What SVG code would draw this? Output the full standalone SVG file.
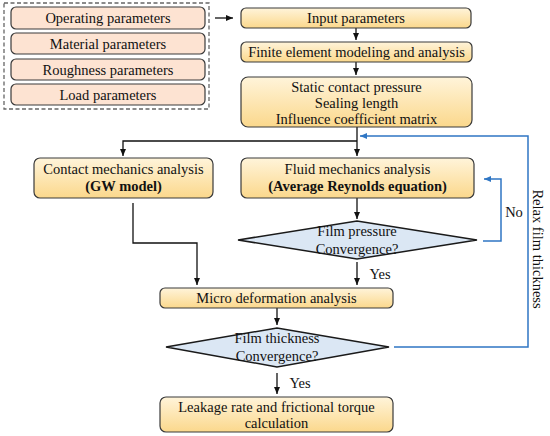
<svg xmlns="http://www.w3.org/2000/svg" width="550" height="436" viewBox="0 0 550 436">
<defs>
<linearGradient id="gy" x1="0" y1="0" x2="0" y2="1">
<stop offset="0" stop-color="#fff4da"/>
<stop offset="1" stop-color="#fbd88c"/>
</linearGradient>
<marker id="ab" markerWidth="8" markerHeight="8" refX="7" refY="4" orient="auto" markerUnits="userSpaceOnUse">
<path d="M0,1 L7,4 L0,7 Z" fill="#111"/>
</marker>
<marker id="au" markerWidth="8" markerHeight="8" refX="7" refY="4" orient="auto" markerUnits="userSpaceOnUse">
<path d="M0,1 L7,4 L0,7 Z" fill="#2f76c4"/>
</marker>
<style>
text{font-family:"Liberation Serif","Times New Roman",serif;font-size:14.5px;fill:#111;text-anchor:middle}
.b{font-weight:bold}
.box{fill:url(#gy);stroke:#3a3a3a;stroke-width:1.2}
.par{fill:#fde3d2;stroke:#3a3a3a;stroke-width:1.2}
.dia{fill:#dbe7f4;stroke:#1a1a1a;stroke-width:1.5}
.k{fill:none;stroke:#111;stroke-width:1.3}
.bl{fill:none;stroke:#2f76c4;stroke-width:1.5}
</style>
</defs>

<g id="connectors">
<rect x="4" y="3" width="205" height="106" fill="none" stroke="#666" stroke-width="1.3" stroke-dasharray="4,2.5"/>
<path class="k" d="M215,18 H233" marker-end="url(#ab)"/>
<path class="k" d="M356,28 V40" marker-end="url(#ab)"/>
<path class="k" d="M356,62 V75" marker-end="url(#ab)"/>
<path class="k" d="M357,127 V156" marker-end="url(#ab)"/>
<path class="k" d="M357,141 H123 V156" marker-end="url(#ab)"/>
<path class="k" d="M357,198 V219" marker-end="url(#ab)"/>
<path class="k" d="M357,262 V285" marker-end="url(#ab)"/>
<path class="k" d="M133,203 V243 H197 V285" marker-end="url(#ab)"/>
<path class="k" d="M277,308 V325" marker-end="url(#ab)"/>
<path class="k" d="M277,373 V394" marker-end="url(#ab)"/>
<path class="bl" d="M483,241 H501 V179 H484" marker-end="url(#au)"/>
<path class="bl" d="M394,347 H528 V136 H360" marker-end="url(#au)"/>
<text x="514" y="217">No</text>
<text x="380" y="279">Yes</text>
<text x="300" y="388">Yes</text>
<text transform="translate(533,249) rotate(90)">Relax film thickness</text>
</g>

<g id="operating"><rect class="par" x="11" y="7" width="194" height="22" rx="5"/><text x="108" y="23">Operating parameters</text></g>
<g id="material"><rect class="par" x="11" y="33" width="194" height="21" rx="5"/><text x="108" y="48.5">Material parameters</text></g>
<g id="roughness"><rect class="par" x="11" y="59" width="194" height="21" rx="5"/><text x="108" y="74.5">Roughness parameters</text></g>
<g id="load"><rect class="par" x="11" y="84" width="194" height="21" rx="5"/><text x="108" y="99.5">Load parameters</text></g>

<g id="input"><rect class="box" x="241" y="8" width="230" height="20" rx="5"/><text x="356" y="23">Input parameters</text></g>
<g id="fem"><rect class="box" x="241" y="42" width="231" height="20" rx="5"/><text x="356.5" y="57">Finite element modeling and analysis</text></g>
<g id="static"><rect class="box" x="241" y="77" width="231" height="50" rx="7"/>
<text x="356.5" y="92">Static contact pressure</text>
<text x="356.5" y="108">Sealing length</text>
<text x="356.5" y="124">Influence coefficient matrix</text></g>

<g id="contact"><rect class="box" x="34" y="158" width="179" height="40" rx="6"/>
<text x="123.5" y="174">Contact mechanics analysis</text>
<text class="b" x="123.5" y="191">(GW model)</text></g>
<g id="fluid"><rect class="box" x="241" y="158" width="233" height="40" rx="6"/>
<text x="357.5" y="174">Fluid mechanics analysis</text>
<text class="b" x="357.5" y="191">(Average Reynolds equation)</text></g>

<g id="filmpressure"><polygon class="dia" points="238,240 357,221 477,240 357,259"/>
<text x="357" y="236">Film pressure</text>
<text x="357" y="254">Convergence?</text></g>

<g id="micro"><rect class="box" x="160" y="288" width="233" height="20" rx="5"/><text x="276.5" y="303">Micro deformation analysis</text></g>

<g id="filmthickness"><polygon class="dia" points="166,347 277,328 389,347 277,367"/>
<text x="277" y="343">Film thickness</text>
<text x="277" y="361">Convergence?</text></g>

<g id="leakage"><rect class="box" x="160" y="397" width="233" height="35" rx="6"/>
<text x="276.5" y="412">Leakage rate and frictional torque</text>
<text x="276.5" y="428">calculation</text></g>
</svg>
